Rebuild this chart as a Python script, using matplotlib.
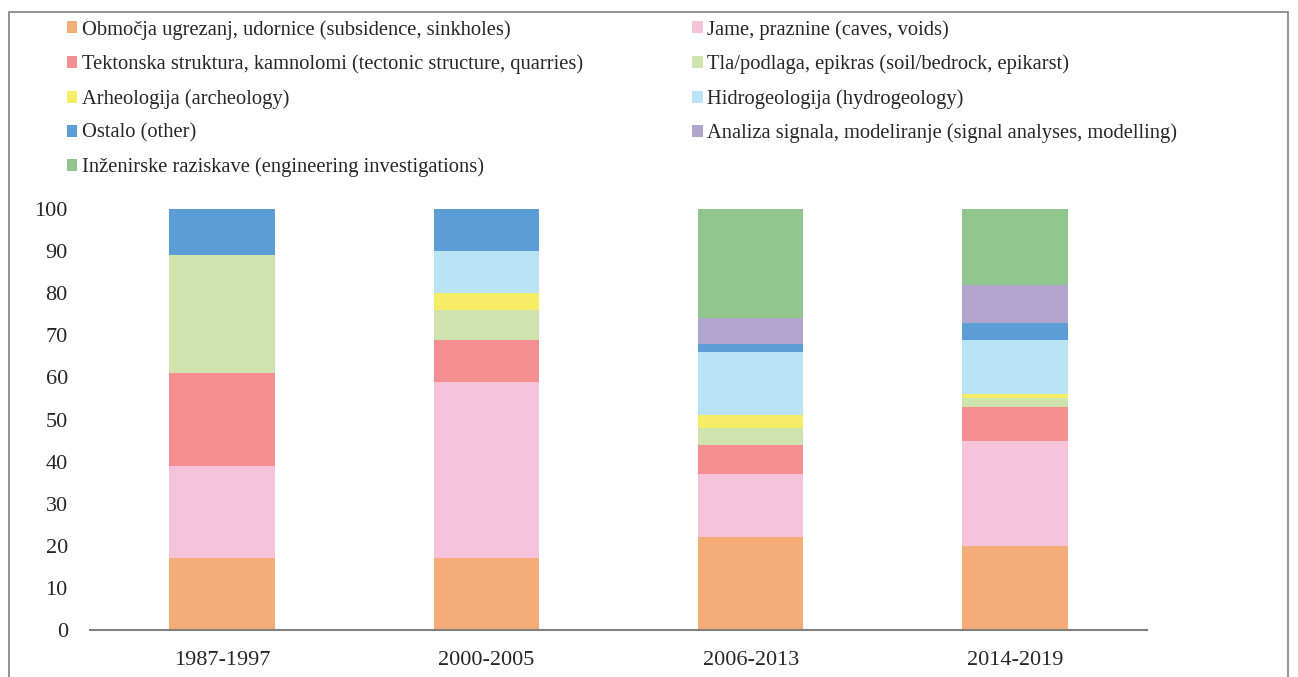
import matplotlib.pyplot as plt
import numpy as np
from matplotlib.patches import Patch, Rectangle

plt.rcParams['font.family'] = ['Liberation Serif', 'DejaVu Serif']

periods = ['1987-1997', '2000-2005', '2006-2013', '2014-2019']

labels = [
    'Območja ugrezanj, udornice (subsidence, sinkholes)',
    'Jame, praznine (caves, voids)',
    'Tektonska struktura, kamnolomi (tectonic structure, quarries)',
    'Tla/podlaga, epikras (soil/bedrock, epikarst)',
    'Arheologija (archeology)',
    'Hidrogeologija (hydrogeology)',
    'Ostalo (other)',
    'Analiza signala, modeliranje (signal analyses, modelling)',
    'Inženirske raziskave (engineering investigations)',
]
colors = ['#F4AC78', '#F4C3DA', '#F48E90', '#CEE3AE', '#F5ED66',
          '#B8E4F6', '#5B9DD4', '#B1A5CE', '#91C68E']

subsidence = [17, 17, 22, 20]
caves = [22, 42, 15, 25]
tectonic = [22, 10, 7, 8]
soil = [28, 7, 4, 2]
archeology = [0, 4, 3, 1]
hydro = [0, 10, 15, 13]
other = [11, 10, 2, 4]
signal = [0, 0, 6, 9]
engineering = [0, 0, 26, 18]

series = [subsidence, caves, tectonic, soil, archeology, hydro, other, signal, engineering]

fig = plt.figure(figsize=(12.98, 6.77), dpi=100)
ax = fig.add_axes([90 / 1298, 1 - 630 / 677, (1147 - 90) / 1298, (630 - 209) / 677])

x = np.arange(len(periods))
bottom = np.zeros(len(periods))
for vals, c in zip(series, colors):
    ax.bar(x, vals, width=0.4, bottom=bottom, color=c, edgecolor='none', zorder=2)
    bottom += np.array(vals)

ax.set_xlim(-0.5, 3.5)
ax.set_ylim(0, 100)
ax.set_yticks(np.arange(0, 101, 10))
ax.set_xticks(x)
ax.set_xticklabels(periods)
for s in ['top', 'right', 'left']:
    ax.spines[s].set_visible(False)
ax.spines['bottom'].set_color('#808080')
ax.spines['bottom'].set_linewidth(1.5)
ax.tick_params(axis='both', length=0, labelsize=16, colors='#262626')
ax.tick_params(axis='y', pad=16)
ax.tick_params(axis='x', pad=15)

handles = [Patch(facecolor=c, edgecolor='none') for c in colors]
col1 = [0, 2, 4, 6, 8]
col2 = [1, 3, 5, 7]
legkw = dict(frameon=False, fontsize=14.8, handlelength=0.52, handleheight=0.52,
             handletextpad=0.22, labelspacing=0.72, borderaxespad=0, borderpad=0,
             labelcolor='#262626')
fig.legend([handles[i] for i in col1], [labels[i] for i in col1],
           loc='upper left', bbox_to_anchor=(66.5 / 1298, 1 - 20 / 677), **legkw)
fig.legend([handles[i] for i in col2], [labels[i] for i in col2],
           loc='upper left', bbox_to_anchor=(692 / 1298, 1 - 20 / 677), **legkw)

# outer frame of the figure (cropped at the bottom)
fig.add_artist(Rectangle((9 / 1298, -0.1), (1288 - 9) / 1298, 1.1 - 11.7 / 677,
                         transform=fig.transFigure, fill=False,
                         edgecolor='#7f7f7f', linewidth=1.2))

fig.savefig('out.png', dpi=100)
